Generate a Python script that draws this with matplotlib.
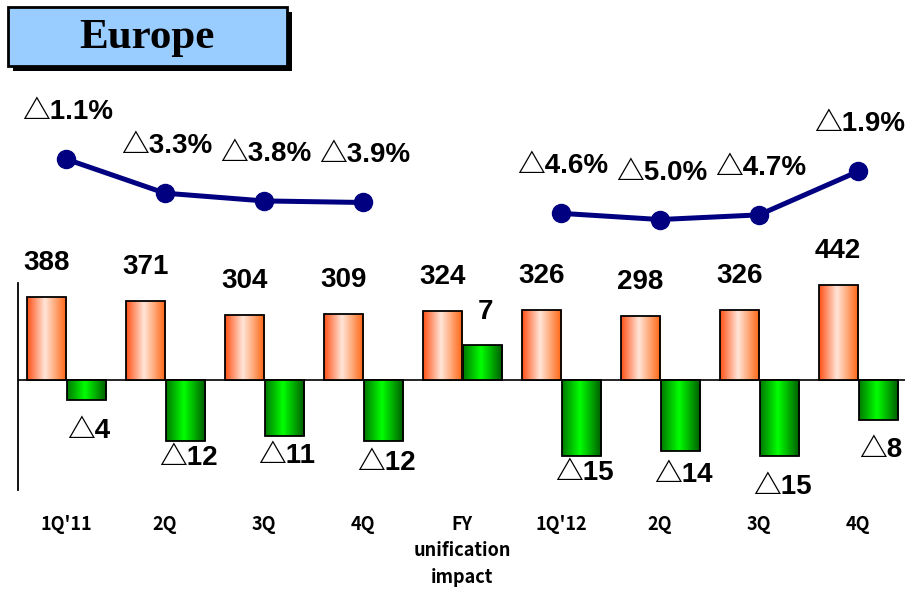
import numpy as np
from matplotlib import pyplot as plt
from matplotlib.colors import LinearSegmentedColormap
from matplotlib.patches import Rectangle

# Data
categories = ["1Q'11", "2Q", "3Q", "4Q", "FY\nunification\nimpact", "1Q'12", "2Q", "3Q", "4Q"]
revenue = [388, 371, 304, 309, 324, 326, 298, 326, 442]
op_income = [-4, -12, -11, -12, 7, -15, -14, -15, -8]
margin = [-1.1, -3.3, -3.8, -3.9, np.nan, -4.6, -5.0, -4.7, -1.9]

# gap (px) between green bar end and its label, as placed on the slide
label_gap = [31, 17, 20, 22, 33, 17, 24, 31, 30]

W, H = 905, 592
fig = plt.figure(figsize=(W / 100, H / 100), dpi=100)

num_font = ['Liberation Sans', 'Noto Sans CJK JP']
tick_font = ['Noto Sans CJK JP', 'DejaVu Sans']


def tri(v, fmt="{:g}", suffix=""):
    # negative numbers are written with a triangle on Japanese slides
    if v < 0:
        return "\u25b3" + fmt.format(abs(v)) + suffix
    return fmt.format(v) + suffix


def gradient_fill(ax, bars, cmap):
    grad = np.linspace(0, 1, 64).reshape(1, -1)
    for b in bars:
        x, y = b.get_x(), b.get_y()
        w, h = b.get_width(), b.get_height()
        im = ax.imshow(grad, extent=[x, x + w, y, y + h], aspect='auto',
                       cmap=cmap, zorder=2, interpolation='bilinear')
        im.set_clip_path(b)


orange_cmap = LinearSegmentedColormap.from_list(
    'org', [(0, '#ff5218'), (0.45, '#ffe6d8'), (1, '#ff6410')])
green_cmap = LinearSegmentedColormap.from_list(
    'grn', [(0, '#007a00'), (0.45, '#00ff00'), (1, '#005a00')])

x = np.arange(len(categories))
xlim = ((18 - 66) / 99, (905 - 66) / 99)

# ---- bar axes ----
ax = fig.add_axes([18 / W, 1 - 490 / H, (905 - 18) / W, (490 - 283) / H])
ax2 = ax.twinx()

op_lim = (-(490 - 380) / 5.05, (380 - 283) / 5.05)
k = 5.05 / 0.214
rev_lim = (op_lim[0] * k, op_lim[1] * k)

bw = 0.395
gbars = ax.bar(x + 0.205, op_income, bw, facecolor='none', edgecolor='black',
               linewidth=1.3, zorder=3)
rbars = ax2.bar(x - 0.2, revenue, bw, facecolor='none', edgecolor='black',
                linewidth=1.3, zorder=3)
gradient_fill(ax, gbars, green_cmap)
gradient_fill(ax2, rbars, orange_cmap)

ax.axhline(0, color='black', linewidth=1.2, zorder=1)

for i, v in enumerate(op_income):
    off = label_gap[i] * 0.72
    ax.annotate(tri(v), (x[i] + 0.205, v), xytext=(2, off if v > 0 else -off),
                textcoords='offset points', ha='center', va='center',
                fontsize=20, fontweight='bold', family=num_font)

for i, v in enumerate(revenue):
    ax2.annotate(str(v), (x[i] - 0.2, v), xytext=(0, 34 * 0.72),
                 textcoords='offset points', ha='center', va='center',
                 fontsize=20, fontweight='bold', family=num_font)

ax.set_xlim(*xlim)
ax.set_ylim(*op_lim)
ax2.set_ylim(*rev_lim)
ax.set_yticks([])
ax2.set_yticks([])
for s in ['top', 'right', 'bottom']:
    ax.spines[s].set_visible(False)
for s in ax2.spines.values():
    s.set_visible(False)
ax.spines['left'].set_linewidth(1.3)
ax.set_xticks(x)
ax.set_xticklabels(categories, family=tick_font, fontweight='bold',
                   fontsize=13, linespacing=1.5, va='top')
ax.tick_params(axis='x', length=0, pad=18)

# ---- margin line ----
lax = fig.add_axes([18 / W, 1 - 260 / H, (905 - 18) / W, 160 / H])
lax.plot(x, margin, color='#000080', linewidth=3.6, marker='o',
         markersize=13, zorder=3)
for i, v in enumerate(margin):
    if np.isnan(v):
        continue
    lax.annotate(tri(v, "{:.1f}", "%"), (x[i], v), xytext=(1, 47 * 0.72),
                 textcoords='offset points', ha='center', va='center',
                 fontsize=20, fontweight='bold', family=num_font)
lax.set_xlim(*xlim)
lax.set_ylim(-7.61, 2.71)
lax.axis('off')

# ---- title box ----
fig.patches.append(Rectangle((13 / W, 1 - 71 / H), 279 / W, 59 / H,
                             transform=fig.transFigure, facecolor='black',
                             edgecolor='none', zorder=0))
fig.patches.append(Rectangle((8 / W, 1 - 66 / H), 279 / W, 59 / H,
                             transform=fig.transFigure, facecolor='#99ccff',
                             edgecolor='black', linewidth=2, zorder=1))
fig.text(147 / W, 1 - 38 / H, 'Europe', ha='center', va='center',
         fontsize=31, fontweight='bold', family='Liberation Serif')

fig.savefig('out.png', dpi=100)
